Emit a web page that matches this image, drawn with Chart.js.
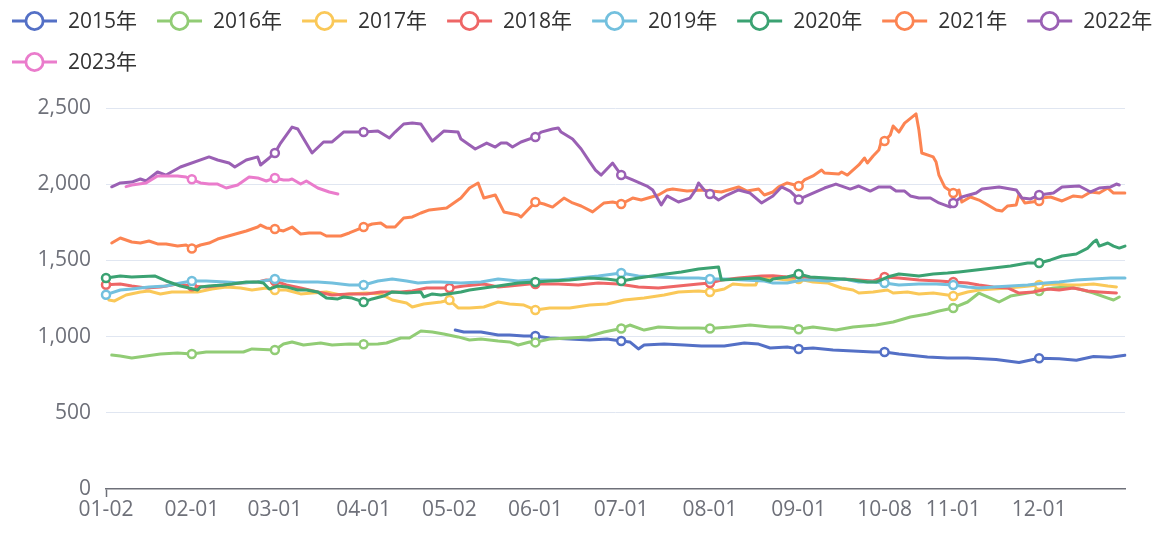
<!DOCTYPE html>
<html>
<head>
<meta charset="utf-8">
<script src="https://cdn.jsdelivr.net/npm/chart.js@4/dist/chart.umd.min.js"></script>
<style>
  html, body { margin: 0; padding: 0; background: #fff; }
  #wrap { width: 1171px; height: 540px; }
</style>
</head>
<body>
<div id="wrap"><canvas id="c" width="1171" height="540"></canvas></div>
<script>
// ---- categories: union of trading-day dates (MM-DD) ----
const monthLengths = [31, 29, 31, 30, 31, 30, 31, 31, 30, 31, 30, 31];
const closedDates = ['01-01', '05-01', '10-01', '10-02', '10-03', '10-04', '10-05', '10-06', '10-07'];
const categories = [];
for (let m = 0; m < 12; m++) {
  for (let d = 1; d <= monthLengths[m]; d++) {
    const key = String(m + 1).padStart(2, '0') + '-' + String(d).padStart(2, '0');
    if (!closedDates.includes(key)) categories.push(key);
  }
}
const tickLabels = ['01-02', '02-01', '03-01', '04-01', '05-02', '06-01', '07-01', '08-01', '09-01', '10-08', '11-01', '12-01'];
const yTicks = [0, 500, 1000, 1500, 2000, 2500];

const seriesNames = ['2015年', '2016年', '2017年', '2018年', '2019年', '2020年', '2021年', '2022年', '2023年'];
const seriesColors = ['#5470c6', '#91cc75', '#fac858', '#ee6666', '#73c0de', '#3ba272', '#fc8452', '#9a60b4', '#ea7ccc'];

// ---- series values: [date, value] ----
const s2015 = [['05-04',1043],['05-07',1030],['05-13',1030],['05-19',1010],['05-23',1010],['05-28',1004],['06-01',1004],['06-06',991],['06-13',984],['06-20',978],['06-26',984],['07-01',971],['07-04',965],['07-07',919],['07-09',945],['07-16',951],['07-23',945],['07-29',938],['08-06',938],['08-13',958],['08-18',951],['08-22',925],['08-28',932],['09-01',919],['09-06',925],['09-13',912],['09-20',906],['09-27',899],['10-08',899],['10-13',886],['10-23',866],['10-30',860],['11-06',860],['11-16',850],['11-24',830],['12-01',858],['12-08',855],['12-14',845],['12-20',870],['12-26',865],['12-31',878]];

const s2016 = [['01-04',879],['01-07',873],['01-11',860],['01-16',873],['01-21',886],['01-27',892],['02-01',886],['02-06',899],['02-13',899],['02-19',899],['02-22',919],['03-01',912],['03-04',951],['03-07',965],['03-11',945],['03-17',958],['03-21',945],['03-27',951],['04-01',950],['04-06',951],['04-09',958],['04-14',991],['04-17',991],['04-21',1037],['04-25',1030],['04-29',1017],['05-05',998],['05-09',978],['05-13',984],['05-19',971],['05-23',965],['05-26',945],['05-30',965],['06-01',962],['06-06',984],['06-13',991],['06-19',998],['06-25',1030],['07-01',1053],['07-04',1076],['07-09',1043],['07-14',1063],['07-21',1056],['07-28',1056],['08-01',1053],['08-08',1063],['08-15',1076],['08-22',1063],['08-26',1063],['09-01',1048],['09-06',1063],['09-14',1043],['09-20',1063],['09-28',1076],['10-11',1096],['10-17',1129],['10-23',1148],['10-27',1168],['11-01',1188],['11-06',1227],['11-10',1286],['11-14',1253],['11-17',1227],['11-21',1266],['11-25',1280],['12-01',1299],['12-06',1319],['12-11',1326],['12-15',1312],['12-20',1286],['12-25',1253],['12-27',1240],['12-29',1260]];

const s2017 = [['01-03',1240],['01-05',1234],['01-09',1273],['01-14',1293],['01-17',1299],['01-21',1280],['01-25',1293],['02-03',1293],['02-08',1312],['02-13',1326],['02-18',1319],['02-22',1306],['02-27',1319],['03-01',1306],['03-05',1306],['03-10',1280],['03-14',1286],['03-19',1293],['03-24',1273],['03-27',1280],['04-02',1286],['04-07',1280],['04-11',1240],['04-16',1220],['04-18',1194],['04-22',1214],['04-25',1220],['04-28',1227],['05-02',1240],['05-05',1188],['05-09',1188],['05-14',1194],['05-19',1227],['05-23',1214],['05-28',1207],['06-01',1175],['06-06',1188],['06-13',1188],['06-20',1207],['06-26',1214],['07-02',1240],['07-09',1253],['07-16',1273],['07-21',1293],['07-28',1299],['08-01',1293],['08-06',1312],['08-09',1345],['08-13',1339],['08-17',1339],['08-18',1385],['08-22',1385],['08-28',1371],['09-01',1378],['09-06',1358],['09-11',1352],['09-16',1319],['09-20',1306],['09-22',1286],['09-27',1293],['10-09',1306],['10-11',1286],['10-16',1293],['10-20',1280],['10-25',1286],['10-30',1273],['11-01',1266],['11-06',1293],['11-10',1306],['11-15',1312],['11-20',1319],['11-24',1326],['12-01',1339],['12-06',1345],['12-11',1339],['12-15',1339],['12-20',1345],['12-25',1332],['12-28',1326]];

const s2018 = [['01-02',1340],['01-07',1345],['01-11',1332],['01-16',1319],['01-21',1326],['01-27',1345],['02-01',1330],['02-06',1326],['02-12',1339],['02-18',1352],['02-24',1358],['02-27',1371],['03-01',1365],['03-05',1339],['03-10',1319],['03-16',1293],['03-21',1273],['03-27',1280],['04-02',1280],['04-07',1293],['04-14',1293],['04-18',1299],['04-23',1319],['04-28',1319],['05-02',1319],['05-07',1332],['05-14',1345],['05-19',1326],['05-23',1332],['05-30',1345],['06-01',1345],['06-09',1345],['06-16',1339],['06-23',1352],['06-30',1345],['07-07',1326],['07-14',1319],['07-21',1332],['07-28',1345],['08-01',1352],['08-05',1371],['08-11',1385],['08-19',1398],['08-23',1400],['08-28',1391],['09-03',1391],['09-06',1385],['09-11',1371],['09-17',1378],['09-22',1371],['09-27',1365],['10-08',1391],['10-13',1385],['10-20',1371],['10-27',1365],['11-01',1358],['11-06',1352],['11-10',1339],['11-15',1326],['11-20',1319],['11-24',1286],['11-29',1293],['12-04',1312],['12-08',1306],['12-13',1319],['12-18',1299],['12-22',1293],['12-28',1286]];

const s2019 = [['01-02',1275],['01-07',1306],['01-11',1312],['01-17',1326],['01-23',1332],['01-28',1352],['02-01',1365],['02-06',1365],['02-13',1358],['02-18',1352],['02-24',1358],['03-01',1378],['03-05',1365],['03-10',1358],['03-16',1358],['03-21',1352],['03-27',1339],['04-01',1339],['04-06',1365],['04-11',1378],['04-16',1365],['04-20',1352],['04-25',1358],['04-28',1358],['05-06',1352],['05-13',1358],['05-19',1378],['05-26',1365],['05-31',1371],['06-09',1371],['06-16',1385],['06-23',1398],['07-01',1417],['07-07',1398],['07-14',1391],['07-21',1385],['07-28',1385],['08-01',1378],['08-06',1378],['08-13',1371],['08-20',1365],['08-23',1352],['08-28',1352],['09-02',1371],['09-06',1371],['09-11',1365],['09-17',1378],['09-22',1358],['09-27',1358],['10-08',1352],['10-13',1339],['10-20',1345],['10-26',1345],['11-01',1339],['11-06',1326],['11-10',1319],['11-15',1326],['11-21',1332],['11-27',1339],['12-03',1352],['12-08',1358],['12-14',1371],['12-20',1378],['12-26',1385],['12-31',1385]];

const s2020 = [['01-02',1385],['01-07',1398],['01-11',1391],['01-19',1398],['01-23',1365],['01-28',1332],['01-31',1319],['02-03',1306],['02-04',1326],['02-07',1332],['02-12',1339],['02-15',1345],['02-20',1358],['02-24',1358],['02-26',1352],['02-28',1312],['03-02',1332],['03-05',1326],['03-09',1306],['03-12',1306],['03-16',1293],['03-19',1253],['03-23',1247],['03-25',1260],['03-28',1253],['04-01',1227],['04-04',1247],['04-08',1266],['04-11',1293],['04-16',1286],['04-21',1293],['04-22',1260],['04-25',1280],['04-28',1273],['05-06',1293],['05-09',1306],['05-19',1332],['05-26',1352],['06-01',1358],['06-06',1365],['06-13',1371],['06-20',1385],['06-26',1378],['07-01',1365],['07-07',1385],['07-14',1404],['07-22',1424],['07-28',1443],['08-04',1457],['08-05',1371],['08-11',1378],['08-18',1385],['08-22',1365],['08-23',1378],['08-28',1391],['09-01',1411],['09-05',1391],['09-11',1385],['09-16',1378],['09-20',1371],['09-25',1358],['09-28',1358],['10-09',1391],['10-13',1411],['10-20',1398],['10-25',1411],['10-30',1417],['11-03',1424],['11-09',1437],['11-15',1450],['11-21',1463],['11-27',1483],['12-01',1483],['12-05',1503],['12-09',1529],['12-14',1542],['12-18',1581],['12-20',1621],['12-21',1634],['12-22',1594],['12-25',1614],['12-27',1594],['12-29',1581],['12-31',1594]];

const s2021 = [['01-04',1614],['01-07',1647],['01-11',1621],['01-14',1614],['01-17',1627],['01-20',1608],['01-23',1608],['01-27',1594],['01-30',1601],['02-01',1578],['02-04',1601],['02-07',1614],['02-10',1640],['02-15',1667],['02-20',1693],['02-24',1719],['02-25',1732],['02-27',1713],['03-01',1706],['03-04',1693],['03-07',1719],['03-10',1673],['03-13',1680],['03-17',1680],['03-19',1660],['03-24',1660],['03-27',1680],['04-01',1719],['04-04',1739],['04-07',1745],['04-09',1719],['04-12',1719],['04-15',1778],['04-18',1785],['04-21',1811],['04-24',1831],['04-30',1844],['05-06',1909],['05-09',1975],['05-12',2008],['05-14',1909],['05-18',1929],['05-21',1818],['05-26',1798],['05-27',1785],['05-29',1824],['06-01',1883],['06-04',1870],['06-07',1850],['06-11',1909],['06-14',1877],['06-17',1857],['06-21',1818],['06-25',1877],['06-28',1883],['07-01',1870],['07-05',1909],['07-08',1896],['07-14',1929],['07-17',1962],['07-19',1968],['07-24',1955],['07-29',1962],['08-05',1949],['08-11',1982],['08-14',1955],['08-18',1968],['08-20',1929],['08-23',1949],['08-25',1982],['08-28',2008],['09-01',1988],['09-03',2028],['09-06',2054],['09-09',2093],['09-10',2073],['09-15',2067],['09-16',2080],['09-18',2060],['09-22',2126],['09-24',2172],['09-25',2139],['09-27',2185],['09-29',2224],['09-30',2290],['10-08',2283],['10-10',2323],['10-11',2382],['10-13',2342],['10-15',2401],['10-19',2461],['10-20',2356],['10-21',2205],['10-25',2179],['10-26',2146],['10-27',2060],['10-29',1982],['11-01',1942],['11-03',1962],['11-04',1883],['11-07',1916],['11-10',1896],['11-13',1864],['11-16',1831],['11-18',1824],['11-20',1857],['11-23',1864],['11-24',1936],['11-26',1877],['12-01',1890],['12-02',1909],['12-05',1916],['12-09',1890],['12-13',1923],['12-16',1916],['12-19',1949],['12-22',1942],['12-25',1975],['12-27',1942],['12-31',1942]];

const s2022 = [['01-04',1983],['01-07',2008],['01-11',2014],['01-14',2034],['01-16',2021],['01-20',2080],['01-23',2060],['01-28',2113],['02-07',2179],['02-10',2159],['02-14',2139],['02-16',2113],['02-20',2159],['02-24',2179],['02-25',2126],['02-28',2172],['03-01',2205],['03-03',2270],['03-07',2375],['03-09',2362],['03-14',2205],['03-18',2277],['03-21',2277],['03-25',2342],['04-01',2342],['04-06',2349],['04-10',2303],['04-12',2342],['04-15',2395],['04-18',2401],['04-21',2395],['04-25',2283],['04-29',2349],['05-05',2342],['05-06',2296],['05-10',2244],['05-11',2231],['05-15',2270],['05-18',2244],['05-20',2270],['05-22',2270],['05-24',2244],['05-27',2277],['06-01',2310],['06-03',2342],['06-07',2362],['06-09',2369],['06-10',2342],['06-14',2296],['06-17',2231],['06-20',2146],['06-22',2093],['06-24',2060],['06-28',2139],['07-01',2060],['07-05',2028],['07-10',1988],['07-12',1962],['07-15',1864],['07-17',1923],['07-21',1883],['07-25',1909],['07-27',1962],['07-28',2008],['07-30',1962],['08-01',1936],['08-04',1896],['08-07',1929],['08-11',1962],['08-15',1942],['08-19',1877],['08-23',1923],['08-26',1982],['08-29',1955],['09-01',1900],['09-06',1942],['09-10',1975],['09-14',2001],['09-19',1968],['09-22',1988],['09-26',1955],['09-29',1982],['10-10',1982],['10-12',1955],['10-15',1955],['10-17',1923],['10-20',1909],['10-24',1909],['10-27',1877],['10-31',1850],['11-01',1877],['11-04',1916],['11-09',1942],['11-11',1968],['11-17',1982],['11-23',1962],['11-25',1909],['11-28',1903],['12-01',1929],['12-06',1942],['12-09',1982],['12-15',1988],['12-19',1949],['12-22',1975],['12-26',1982],['12-28',2001],['12-29',1995]];

const s2023 = [['01-09',1984],['01-11',1995],['01-16',2008],['01-20',2054],['01-27',2054],['01-30',2047],['02-01',2032],['02-04',2008],['02-07',2001],['02-10',2001],['02-13',1975],['02-17',1995],['02-21',2047],['02-24',2041],['02-27',2021],['03-01',2041],['03-04',2028],['03-06',2028],['03-07',2034],['03-10',2001],['03-12',2021],['03-16',1975],['03-20',1949],['03-23',1936]];

const seriesData = [s2015, s2016, s2017, s2018, s2019, s2020, s2021, s2022, s2023];

// ---- build datasets ----
const datasets = seriesNames.map((name, i) => ({
  label: name,
  data: seriesData[i].map(([d, v]) => ({ x: d, y: v })),
  borderColor: seriesColors[i],
  backgroundColor: '#ffffff',
  borderWidth: 3,
  borderJoinStyle: 'round',
  borderCapStyle: 'round',
  tension: 0,
  fill: false,
  pointRadius: (ctx) => (ctx.raw && tickLabels.includes(ctx.raw.x)) ? 4 : 0,
  pointHoverRadius: (ctx) => (ctx.raw && tickLabels.includes(ctx.raw.x)) ? 4 : 0,
  pointBackgroundColor: '#ffffff',
  pointBorderColor: seriesColors[i],
  pointBorderWidth: 2.5,
  order: seriesNames.length - i
}));

const FONT_FAMILY = '"Open Sans", "Noto Sans CJK SC", sans-serif';

// ECharts-style legend drawn on the canvas
const ecLegend = {
  id: 'ecLegend',
  afterDraw(chart) {
    const ctx = chart.ctx;
    ctx.save();
    ctx.font = '21px ' + FONT_FAMILY;
    ctx.textBaseline = 'middle';
    ctx.textAlign = 'left';
    const startX = 12, iconW = 45, gapText = 11, itemGap = 20, rowH = 41;
    let x = startX, y = 21;
    chart.data.datasets.forEach(ds => {
      const tw = ctx.measureText(ds.label).width;
      const w = iconW + gapText + tw;
      if (x + w > chart.width - 4 && x > startX) { x = startX; y += rowH; }
      ctx.strokeStyle = ds.borderColor;
      ctx.lineWidth = 3;
      ctx.beginPath(); ctx.moveTo(x, y); ctx.lineTo(x + iconW, y); ctx.stroke();
      ctx.beginPath(); ctx.arc(x + iconW / 2, y, 8.6, 0, Math.PI * 2);
      ctx.fillStyle = '#ffffff'; ctx.fill();
      ctx.lineWidth = 2.8; ctx.stroke();
      ctx.fillStyle = '#333333';
      ctx.fillText(ds.label, x + iconW + gapText, y + 1);
      x += w + itemGap;
    });
    ctx.restore();
  }
};

new Chart(document.getElementById('c'), {
  type: 'line',
  data: { labels: categories, datasets },
  plugins: [ecLegend],
  options: {
    responsive: false,
    devicePixelRatio: 1,
    animation: false,
    events: [],
    locale: 'en-US',
    layout: { padding: { top: 108, right: 46, bottom: 0, left: 0 } },
    plugins: { legend: { display: false }, tooltip: { enabled: false } },
    scales: {
      x: {
        type: 'category',
        offset: false,
        afterFit: (s) => { s.height = 51; },
        border: { display: true, color: '#6E7079', width: 1.5 },
        grid: {
          display: true,
          drawOnChartArea: false,
          drawTicks: true,
          tickLength: 8,
          tickWidth: 1.5,
          tickColor: (ctx) => tickLabels.includes(categories[ctx.index]) ? '#6E7079' : 'rgba(0,0,0,0)',
          color: 'rgba(0,0,0,0)'
        },
        ticks: {
          autoSkip: false,
          maxRotation: 0,
          minRotation: 0,
          padding: 0,
          color: '#6E7079',
          font: { family: FONT_FAMILY, size: 21 },
          callback: (v) => tickLabels.includes(categories[v]) ? categories[v] : null
        }
      },
      y: {
        min: yTicks[0],
        max: yTicks[yTicks.length - 1],
        afterFit: (s) => { s.width = 106; },
        afterBuildTicks: (s) => { s.ticks = yTicks.map(v => ({ value: v })); },
        border: { display: false },
        grid: {
          drawTicks: false,
          lineWidth: 1,
          color: (ctx) => (ctx.tick && ctx.tick.value === 0) ? 'rgba(0,0,0,0)' : '#E0E6F1'
        },
        ticks: {
          padding: 15,
          color: '#6E7079',
          font: { family: FONT_FAMILY, size: 21 },
          callback: (v) => Number(v).toLocaleString('en-US')
        }
      }
    }
  }
});
</script>
</body>
</html>
